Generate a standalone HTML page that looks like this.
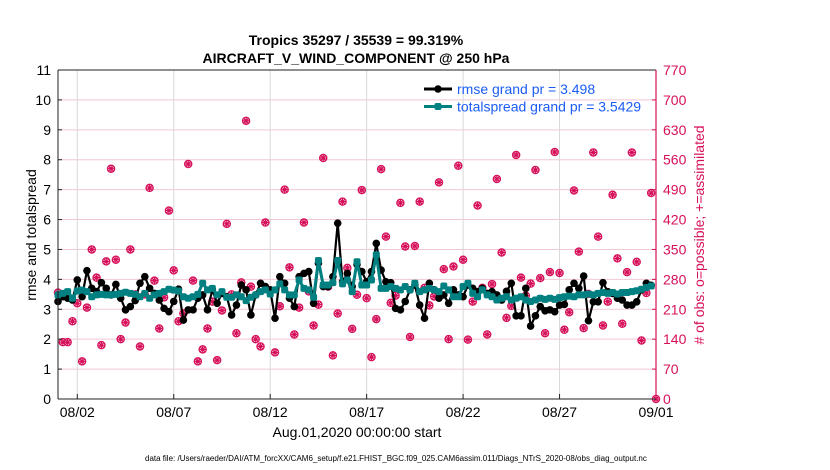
<!DOCTYPE html>
<html><head><meta charset="utf-8">
<style>
body{margin:0;background:#fff;}
svg{display:block;font-family:"Liberation Sans",Arial,sans-serif;}
</style></head>
<body>
<svg id="chart" width="830" height="470" viewBox="0 0 830 470" xmlns="http://www.w3.org/2000/svg">
<rect width="830" height="470" fill="#fff"/>
<text x="356" y="45" text-anchor="middle" font-size="14" font-weight="bold">Tropics 35297 / 35539 = 99.319%</text>
<text x="356" y="63" text-anchor="middle" font-size="14" font-weight="bold">AIRCRAFT_V_WIND_COMPONENT @ 250 hPa</text>
<g id="grid"></g>
<g id="obs"></g>
<g id="lines"></g>
<g id="axes"></g>
<text transform="translate(36,235) rotate(-90)" text-anchor="middle" font-size="14">rmse and totalspread</text>
<text transform="translate(704,235) rotate(-90)" text-anchor="middle" font-size="14" fill="#d6105a">#  of obs: o=possible; +=assimilated</text>
<text x="357" y="437" text-anchor="middle" font-size="14">Aug.01,2020 00:00:00 start</text>
<text x="145" y="461" font-size="8">data file: /Users/raeder/DAI/ATM_forcXX/CAM6_setup/f.e21.FHIST_BGC.f09_025.CAM6assim.011/Diags_NTrS_2020-08/obs_diag_output.nc</text>
<g id="legend"></g>
</svg>
<script>
const leftTicks=[0,1,2,3,4,5,6,7,8,9,10,11];
const rightTicks=[0,70,140,210,280,350,420,490,560,630,700,770];
const dateTickDays=[1,6,11,16,21,26,31];
const dateTickLabels=["08/02","08/07","08/12","08/17","08/22","08/27","09/01"];
const obsCounts=[249,133,133,182,224,88,214,350,284,126,322,539,326,140,179,350,245,123,245,494,277,165,238,441,301,182,200,550,277,88,116,165,228,91,207,410,245,154,273,651,263,140,123,413,252,109,217,490,308,151,214,413,252,172,221,564,263,102,200,462,
307,164,244,489,236,98,187,538,380,225,242,459,357,145,358,462,260,219,240,507,304,140,310,546,326,139,228,453,260,151,269,515,343,190,218,571,284,242,270,536,283,154,297,578,295,162,203,488,345,166,246,577,380,172,228,478,329,176,297,577,321,137,248,482,0];
const rmseValues=[3.26,3.42,3.37,3.31,3.98,3.42,4.29,3.7,3.59,3.89,3.7,3.48,3.83,3.37,2.98,3.09,3.29,3.87,4.09,3.7,3.53,3.31,3.03,2.92,3.26,3.67,2.64,2.98,2.98,3.37,3.48,
2.98,3.65,3.2,3.53,3.42,2.81,3.14,3.81,3.65,2.81,3.48,3.87,3.76,3.65,2.7,4.09,3.87,3.37,3.09,4.09,4.2,4.26,3.2,4.54,3.76,3.76,4.09,5.88,3.92,4.2,3.76,4.5,
4.26,3.92,4.26,5.2,4.31,3.92,3.89,3.03,2.98,3.26,3.65,3.81,3.14,2.7,3.87,3.65,3.37,3.48,3.2,3.65,3.48,3.42,3.81,3.7,3.59,3.7,3.53,3.59,3.48,3.31,3.6,
3.87,2.78,2.78,3.7,2.44,2.78,3.09,2.95,2.98,2.92,3.14,3.16,3.65,3.87,3.7,4.11,2.62,3.25,3.25,3.89,3.59,3.53,3.37,3.31,3.14,3.14,3.25,3.65,3.87,3.8];
const spreadValues=[3.48,3.53,3.59,3.37,3.61,3.64,3.59,3.42,3.48,3.5,3.48,3.48,3.5,3.53,3.57,3.53,3.5,3.42,3.53,3.37,3.48,3.53,3.59,3.67,3.64,3.61,3.42,3.37,3.42,3.5,3.87,
3.65,3.7,3.48,3.59,3.4,3.4,3.48,3.42,3.29,3.4,3.48,3.59,3.65,3.51,3.65,3.85,3.65,3.48,3.48,3.98,3.7,3.65,3.4,4.63,3.81,3.81,3.89,4.63,3.85,3.98,3.59,4.59,
3.81,3.81,3.98,4.82,3.7,3.7,3.76,3.7,3.65,3.76,3.65,3.87,3.59,3.65,3.7,3.65,3.59,3.78,3.65,3.42,3.42,3.76,3.87,3.53,3.42,3.65,3.48,3.42,3.31,3.37,3.42,
3.31,3.37,3.42,3.31,3.26,3.31,3.37,3.33,3.37,3.33,3.39,3.42,3.44,3.42,3.48,3.48,3.51,3.48,3.53,3.56,3.53,3.56,3.51,3.56,3.56,3.59,3.62,3.67,3.73,3.78];
const legendLabels=["rmse grand pr = 3.498","totalspread grand pr = 3.5429"];

const NS="http://www.w3.org/2000/svg";
const L=58,R=656,T=70,B=399;
const xDay=d=>L+(R-L)*d/31;
const yL=v=>B-(B-T)*v/11;
const yR=v=>B-(B-T)*v/770;
const STEP=0.25;
const CRIM="#d6105a", TEAL="#008080";
function mk(tag,attrs,parent){const e=document.createElementNS(NS,tag);for(const k in attrs)e.setAttribute(k,attrs[k]);parent.appendChild(e);return e;}
const grid=document.getElementById('grid'),axes=document.getElementById('axes'),obsG=document.getElementById('obs'),linesG=document.getElementById('lines'),leg=document.getElementById('legend');

leftTicks.forEach(v=>{
  if(v>0&&v<11){const g=mk('line',{x1:L,x2:R,y1:yL(v),y2:yL(v),stroke:'#f0c8d4','stroke-width':1},grid);
  
  }
  const t=mk('text',{x:L-7,y:yL(v)+5,'text-anchor':'end','font-size':14},axes);t.textContent=v;
  
  
  mk('line',{x1:L,x2:L+4,y1:yL(v),y2:yL(v),stroke:'#222'},axes);
});
rightTicks.forEach(v=>{
  const t=mk('text',{x:R+7,y:yR(v)+5,'font-size':14,fill:CRIM},axes);t.textContent=v;
  
  
  mk('line',{x1:R-4,x2:R,y1:yR(v),y2:yR(v),stroke:CRIM},axes);
});
dateTickDays.forEach((d,i)=>{
  const g=mk('line',{x1:xDay(d),x2:xDay(d),y1:T,y2:B,stroke:'#d8d8d8'},grid);
  
  
  mk('line',{x1:xDay(d),x2:xDay(d),y1:B,y2:B-5,stroke:'#222'},axes);
  const t=mk('text',{x:xDay(d),y:417,'text-anchor':'middle','font-size':14},axes);t.textContent=dateTickLabels[i];
  
  
});
mk('line',{x1:L,x2:R,y1:T,y2:T,stroke:'#222'},axes);
mk('line',{x1:L,x2:R,y1:B,y2:B,stroke:'#222'},axes);
mk('line',{x1:L,x2:L,y1:T,y2:B,stroke:'#222'},axes);
mk('line',{x1:R,x2:R,y1:T,y2:B,stroke:CRIM,'stroke-width':1.2},axes);

function asterisk(cx,cy,r,parent,color){
  let d='';
  for(let k=0;k<4;k++){const a=k*Math.PI/4;d+=`M${cx-r*Math.cos(a)},${cy-r*Math.sin(a)}L${cx+r*Math.cos(a)},${cy+r*Math.sin(a)}`;}
  return mk('path',{d:d,stroke:color,'stroke-width':1.2,fill:'none'},parent);
}
obsCounts.forEach((v,i)=>{
  const cx=xDay(i*STEP),cy=yR(v);
  const g=mk('g',{},obsG);
  
  
  mk('circle',{cx:cx,cy:cy,r:3.6,fill:'none',stroke:CRIM,'stroke-width':1.3},g);
  asterisk(cx,cy,3.6,g,CRIM);
});

function series(vals,color,width,name,square){
  const pts=vals.map((v,i)=>[xDay(i*STEP),yL(v)]);
  const p=mk('polyline',{points:pts.map(p=>p.join(',')).join(' '),fill:'none',stroke:color,'stroke-width':width,'stroke-linejoin':'round'},linesG);
  
  
  pts.forEach(q=>{
    const m=square?mk('rect',{x:q[0]-3.5,y:q[1]-3.5,width:7,height:7,rx:2,fill:color},linesG):mk('circle',{cx:q[0],cy:q[1],r:3.8,fill:color},linesG);
    
    
  });
}
series(rmseValues,'#000',2.2,'rmse',false);
series(spreadValues,TEAL,3,'totalspread',true);

[['#000',false],[TEAL,true]].forEach((s,i)=>{
  const y=89+i*17.5;
  const g=mk('g',{},leg);
  
  
  mk('line',{x1:424,x2:452,y1:y,y2:y,stroke:s[0],'stroke-width':3},g);
  if(s[1])mk('rect',{x:434.5,y:y-3.5,width:7,height:7,rx:2,fill:s[0]},g);else mk('circle',{cx:438,cy:y,r:3.8,fill:s[0]},g);
  const t=mk('text',{x:457,y:y+5,'font-size':14,fill:'#1a5cf5'},g);t.textContent=legendLabels[i];
});
</script>
</body></html>
